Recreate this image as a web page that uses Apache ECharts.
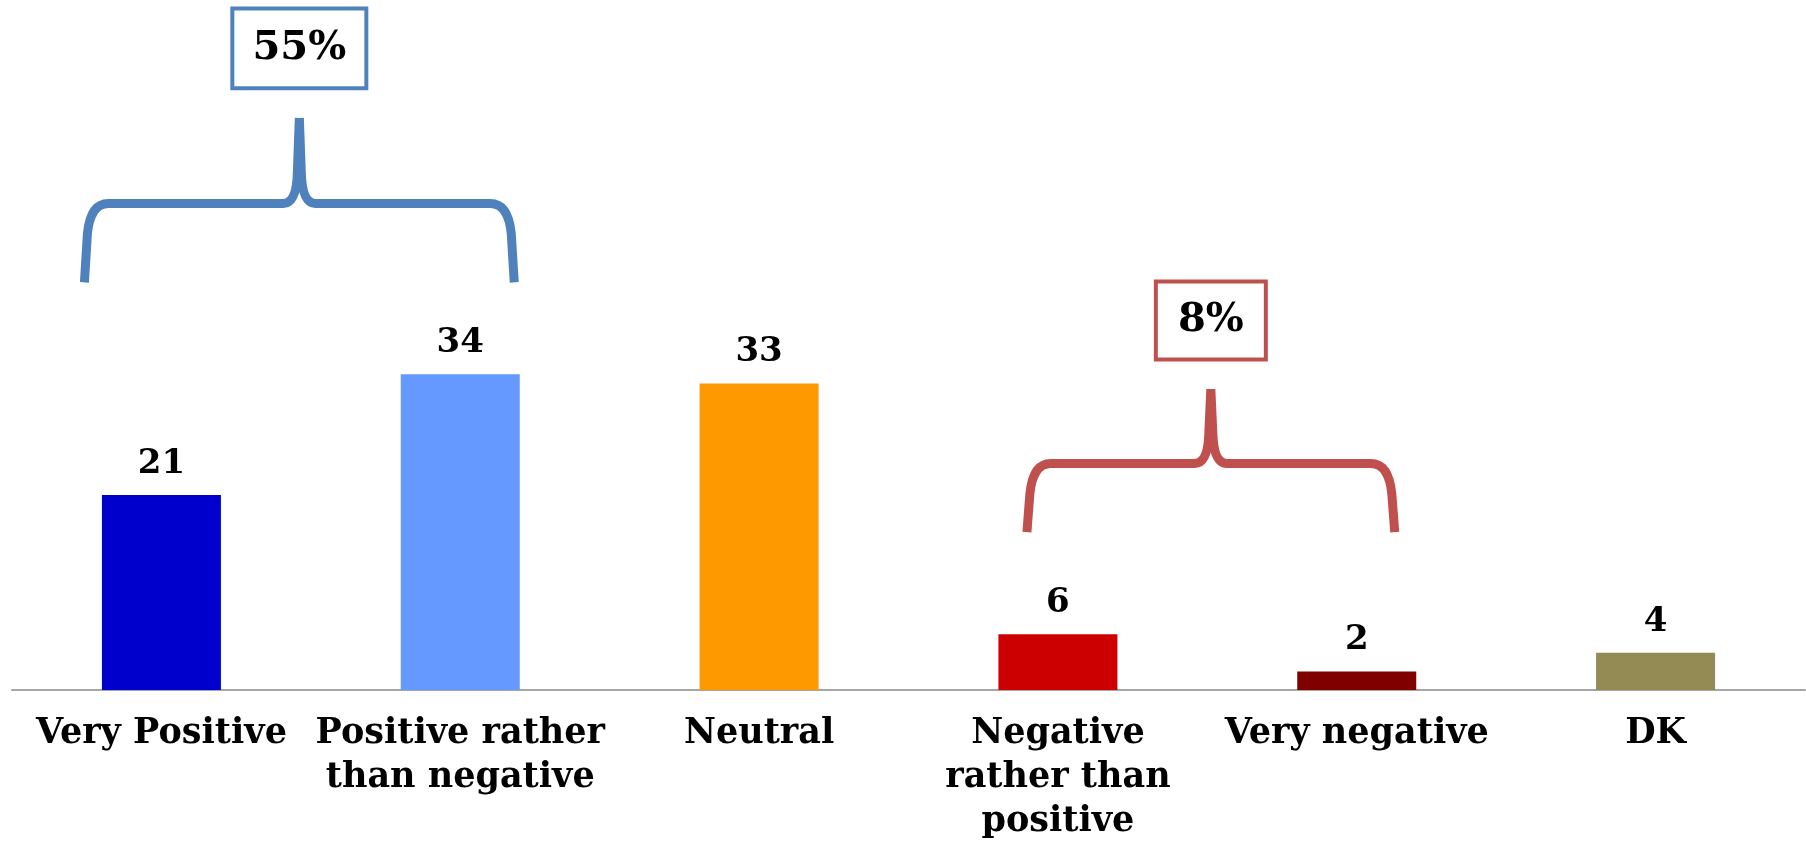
<!DOCTYPE html>
<html>
<head>
<meta charset="utf-8">
<script src="https://cdn.jsdelivr.net/npm/echarts@6/dist/echarts.min.js"></script>
<style>
html,body{margin:0;padding:0;background:#fff;}
#chart{width:1806px;height:843px;}
</style>
</head>
<body>
<div id="chart"></div>
<script>
// ---- data ----
const categories = ['Very Positive', 'Positive rather\nthan negative', 'Neutral', 'Negative\nrather than\npositive', 'Very negative', 'DK'];
const values = [21, 34, 33, 6, 2, 4];
const groupMembers = [[0, 1], [3, 4]];
const groupLabels = ['55%', '8%'];

// ---- styles ----
const barColors = ['#0000cc', '#6699ff', '#ff9900', '#cc0000', '#800000', '#948a54'];
const FONT = 'DejaVu Serif';
const braceStyle = [
  { color: '#4f81bd', dl: -77, dr: 54, yb: 43.9, yh: 52.4, yp: 61.6, boxTop: 73.4, boxBot: 64.8, boxW: 134 },
  { color: '#c0504d', dl: -31, dr: 38, yb: 17.0, yh: 24.4, yp: 32.4, boxTop: 44.0, boxBot: 35.6, boxW: 110 }
];

const chart = echarts.init(document.getElementById('chart'));

function renderBrace(params, api) {
  const g = braceStyle[params.dataIndex];
  const a = api.value(0), b = api.value(1);
  const L = api.coord([a, g.yb])[0] + g.dl;
  const R = api.coord([b, g.yb])[0] + g.dr;
  const M = (L + R) / 2;
  const yb = api.coord([a, g.yb])[1];
  const yh = api.coord([a, g.yh])[1];
  const yp = api.coord([a, g.yp])[1];
  const bt = api.coord([a, g.boxTop])[1];
  const bb = api.coord([a, g.boxBot])[1];
  const d = [
    'M', L, yb,
    'L', L + 3, yh + 30,
    'Q', L + 6, yh, L + 24, yh,
    'L', M - 16, yh,
    'Q', M - 3, yh, M - 2, yh - 30,
    'L', M, yp,
    'M', M, yp,
    'L', M + 2, yh - 30,
    'Q', M + 3, yh, M + 16, yh,
    'L', R - 24, yh,
    'Q', R - 6, yh, R - 3, yh + 30,
    'L', R, yb
  ].join(' ');
  return {
    type: 'group',
    children: [
      {
        type: 'path',
        shape: { pathData: d },
        style: { fill: null, stroke: g.color, lineWidth: 9, lineJoin: 'round', lineCap: 'butt' }
      },
      {
        type: 'rect',
        shape: { x: M - g.boxW / 2, y: bt, width: g.boxW, height: bb - bt },
        style: { fill: '#fff', stroke: g.color, lineWidth: 4 }
      },
      {
        type: 'text',
        x: M, y: (bt + bb) / 2,
        style: {
          text: groupLabels[params.dataIndex],
          fill: '#000', font: 'bold 40px "' + FONT + '"',
          align: 'center', verticalAlign: 'middle'
        }
      }
    ]
  };
}

chart.setOption({
  animation: false,
  grid: { left: 12, right: 1, top: 40, bottom: 153, containLabel: false, outerBoundsMode: 'none' },
  xAxis: {
    type: 'category',
    data: categories,
    axisTick: { show: false },
    axisLine: { lineStyle: { color: '#a6a6a6', width: 2 } },
    axisLabel: {
      interval: 0, margin: 22, color: '#000',
      fontFamily: FONT, fontWeight: 'bold', fontSize: 35, lineHeight: 44
    }
  },
  yAxis: { type: 'value', min: 0, max: 70, show: false, splitLine: { show: false } },
  series: [
    {
      type: 'bar',
      barWidth: 119,
      data: values.map((v, i) => ({ value: v, itemStyle: { color: barColors[i] } })),
      label: {
        show: true, position: 'top', distance: 14, color: '#000',
        fontFamily: FONT, fontWeight: 'bold', fontSize: 34
      }
    },
    {
      type: 'custom',
      renderItem: renderBrace,
      clip: false,
      silent: true,
      encode: { x: [0, 1] },
      data: groupMembers
    }
  ]
});
</script>
</body>
</html>
